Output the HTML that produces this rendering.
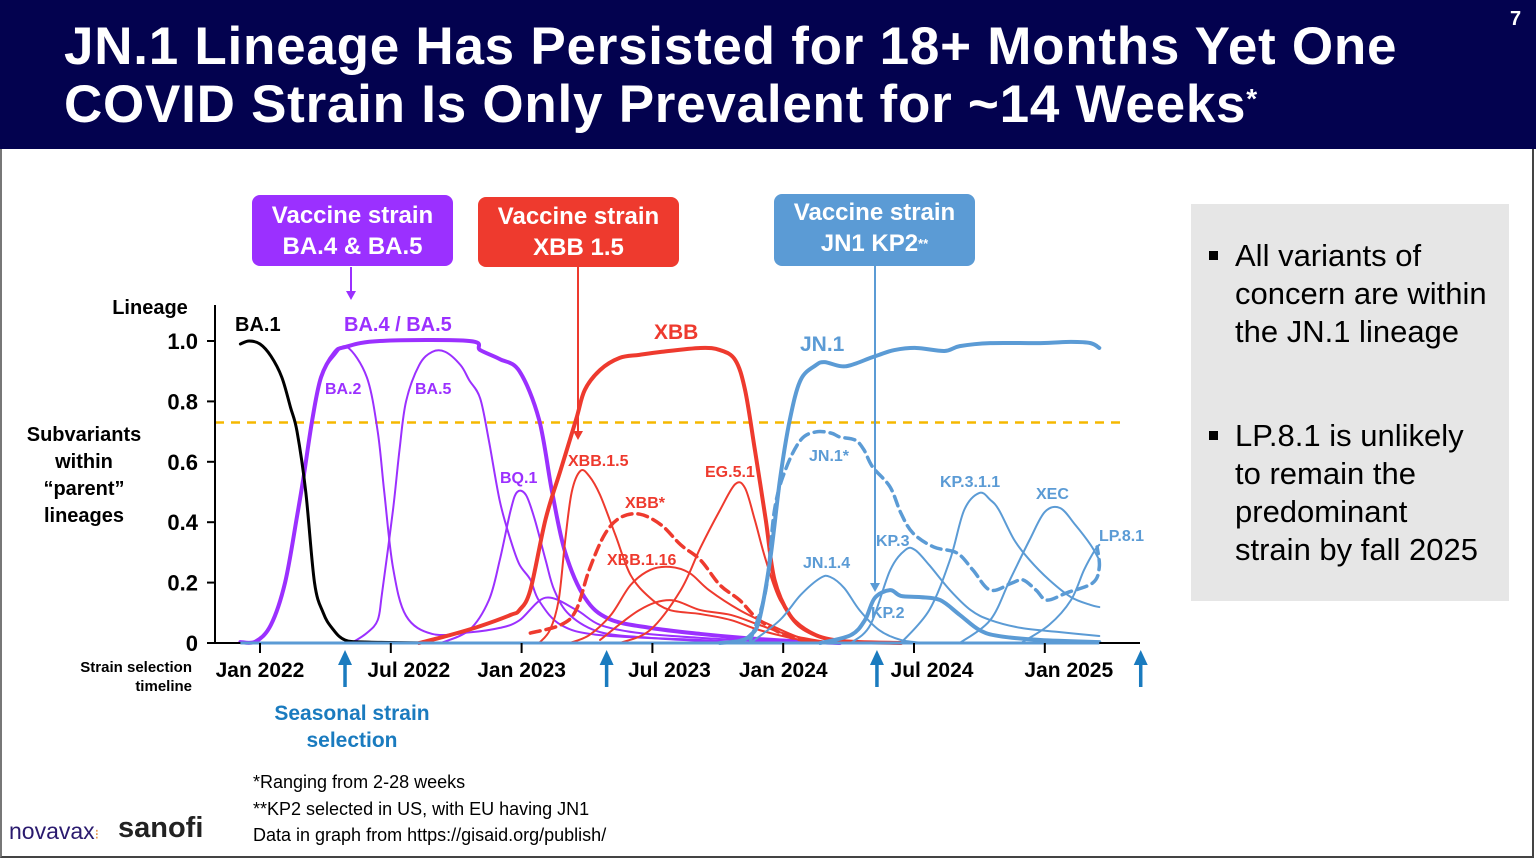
<!DOCTYPE html>
<html><head><meta charset="utf-8"><style>
body{margin:0;width:1536px;height:861px;position:relative;overflow:hidden;background:#fff;font-family:"Liberation Sans",Arial,sans-serif}
.hdr{position:absolute;left:0;top:0;width:1536px;height:149px;background:#03024f}
.title{position:absolute;left:64px;top:18px;color:#fff;font-weight:bold;font-size:53px;letter-spacing:0.75px;line-height:58px;white-space:nowrap}
.vbox{position:absolute;color:#fff;font-weight:bold;font-size:24px;line-height:31px;text-align:center;border-radius:8px}
.gray{position:absolute;left:1191px;top:204px;width:318px;height:397px;background:#e6e6e6}
.bul{position:absolute;left:1235px;font-size:31px;line-height:38px;color:#000}
.bul:before{content:"";position:absolute;left:-26px;top:14px;width:9px;height:9px;background:#000}
.foot{position:absolute;left:253px;font-size:18px;color:#000}
</style></head><body>
<div class="hdr"></div>
<div class="title">JN.1 Lineage Has Persisted for 18+ Months Yet One<br>COVID Strain Is Only Prevalent for ~14 Weeks<sup style="font-size:28px;vertical-align:top;position:relative;top:-6px">*</sup></div>
<div style="position:absolute;left:1510px;top:8px;color:#fff;font-weight:bold;font-size:20px">7</div>
<div style="position:absolute;left:0;top:149px;width:1534px;height:709px;border-left:2px solid #777;border-right:2px solid #444;border-bottom:2px solid #444;box-sizing:border-box"></div>

<div class="vbox" style="left:252px;top:195px;width:201px;height:71px;background:#9b30ff;padding-top:5px;box-sizing:border-box">Vaccine strain<br>BA.4 &amp; BA.5</div>
<div class="vbox" style="left:478px;top:197px;width:201px;height:70px;background:#ee3a2e;padding-top:4px;box-sizing:border-box">Vaccine strain<br>XBB 1.5</div>
<div class="vbox" style="left:774px;top:194px;width:201px;height:72px;background:#5b9bd5;padding-top:3px;box-sizing:border-box">Vaccine strain<br>JN1 KP2<sup style="font-size:13px;vertical-align:top">**</sup></div>

<div class="gray"></div>
<div class="bul" style="top:237px">All variants of<br>concern are within<br>the JN.1 lineage</div>
<div class="bul" style="top:417px">LP.8.1 is unlikely<br>to remain the<br>predominant<br>strain by fall 2025</div>

<div class="foot" style="top:772px">*Ranging from 2-28 weeks</div>
<div class="foot" style="top:799px">**KP2 selected in US, with EU having JN1</div>
<div class="foot" style="top:825px">Data in graph from https://gisaid.org/publish/</div>
<div style="position:absolute;left:9px;top:818px;font-size:23px;color:#2a1a6e">novavax<span style="color:#e58a3a;font-size:14px">⁝</span></div>
<div style="position:absolute;left:118px;top:812px;font-size:29px;font-weight:bold;color:#222">sanofi</div>

<svg id="chart" width="1536" height="861" style="position:absolute;left:0;top:0"></svg>
<script>
const yTicks=[0,0.2,0.4,0.6,0.8,1.0];
const yTickLabels=["0","0.2","0.4","0.6","0.8","1.0"];
const xTickMonths=[0,6,12,18,24,30,36];
const xTickLabels=["Jan 2022","Jul 2022","Jan 2023","Jul 2023","Jan 2024","Jul 2024","Jan 2025"];
const xLabelShift=[0,18,0,17,0,18,24];
const selectionMonths=[3.9,15.9,28.3,40.4];
const threshold=0.73;
const ba1=[[-0.9,0.99],[-0.5,1.0],[0,0.99],[0.5,0.95],[1,0.88],[1.4,0.78],[1.7,0.7],[2.1,0.5],[2.5,0.2],[2.9,0.1],[3.3,0.05],[3.9,0.01],[5,0.003],[8,0]];
const ba45=[[-0.9,0.003],[-0.2,0.005],[0.5,0.06],[1.15,0.2],[1.7,0.42],[2.0,0.55],[2.4,0.74],[2.8,0.88],[3.4,0.96],[3.9,0.98],[5.5,1.0],[9.6,1.0],[10.1,0.97],[11.0,0.94],[11.9,0.9],[12.8,0.74],[13.4,0.5],[14.0,0.3],[14.9,0.15],[16,0.08],[17.9,0.05],[20.2,0.03],[22.5,0.015],[24.8,0.005],[26.6,0]];
const ba2=[[-0.9,0.003],[-0.2,0.005],[0.5,0.06],[1.15,0.2],[1.7,0.42],[2.0,0.55],[2.4,0.74],[2.8,0.88],[3.4,0.95],[4.0,0.98],[4.9,0.88],[5.4,0.7],[5.7,0.5],[6.1,0.25],[6.7,0.09],[7.9,0.03],[9.6,0.035],[11,0.05],[11.9,0.075],[13.1,0.15],[14.5,0.11],[15.6,0.06],[17.4,0.033],[20.2,0.017],[22.9,0.007],[25,0]];
const ba5=[[4.2,0],[4.9,0.033],[5.4,0.076],[5.6,0.166],[6.1,0.44],[6.4,0.64],[6.7,0.8],[7.3,0.92],[7.9,0.964],[8.5,0.964],[9.2,0.92],[9.6,0.87],[10.1,0.81],[10.5,0.67],[11,0.47],[11.5,0.34],[11.9,0.26],[12.4,0.21],[12.8,0.14],[13.8,0.06],[15.6,0.026],[20.2,0.01],[23,0]];
const bq1=[[8.3,0],[9.6,0.043],[10.5,0.142],[11,0.275],[11.5,0.44],[11.8,0.5],[12.2,0.49],[12.6,0.41],[13.1,0.275],[13.5,0.175],[14.2,0.093],[15.6,0.036],[17.9,0.017],[20.2,0.007],[22,0]];
const xbb=[[7.3,0],[8.7,0.026],[10.1,0.056],[11.5,0.093],[11.9,0.109],[12.4,0.175],[13.1,0.41],[13.8,0.575],[14.5,0.74],[14.9,0.838],[15.6,0.904],[16.5,0.944],[17.4,0.954],[18.4,0.964],[20.2,0.977],[21.1,0.97],[21.8,0.937],[22.25,0.838],[22.7,0.64],[23.2,0.408],[23.6,0.21],[24.3,0.093],[25.2,0.036],[26.6,0.007],[29.4,0]];
const xbb15=[[12.8,0],[13.3,0.043],[13.7,0.142],[14,0.34],[14.3,0.5],[14.7,0.57],[15.1,0.553],[15.6,0.49],[16.3,0.358],[17,0.225],[17.9,0.149],[18.8,0.109],[20.2,0.096],[21.6,0.076],[22.9,0.043],[24.8,0.01],[26,0]];
const xbbStar=[[12.4,0.033],[13.8,0.06],[14.5,0.109],[15.1,0.242],[15.8,0.358],[16.5,0.414],[17.4,0.427],[18.4,0.391],[19.3,0.325],[20.2,0.275],[21.1,0.192],[22,0.142],[22.9,0.076],[24.3,0.02],[25.7,0.003]];
const xbb116=[[14.2,0],[15.1,0.026],[16.1,0.093],[17,0.192],[17.9,0.242],[18.8,0.252],[19.7,0.232],[20.6,0.175],[22,0.109],[23.4,0.06],[24.8,0.017],[26.2,0]];
const xbb19=[[15.6,0.01],[17.4,0.109],[18.8,0.142],[20.2,0.109],[21.6,0.093],[22.9,0.06],[24.3,0.026],[26,0.003]];
const eg51=[[16.5,0],[17.9,0.043],[19.3,0.175],[20.2,0.315],[21.1,0.44],[21.8,0.526],[22.25,0.513],[22.7,0.407],[23.2,0.275],[23.85,0.142],[24.8,0.06],[26.2,0.01],[27.5,0]];
const jn1=[[21.1,0],[22,0.007],[22.5,0.026],[22.9,0.076],[23.4,0.275],[23.85,0.54],[24.3,0.738],[24.8,0.871],[25.5,0.92],[25.9,0.93],[26.6,0.917],[27.1,0.92],[28,0.944],[28.4,0.954],[29.1,0.97],[30.1,0.977],[31.4,0.967],[32.1,0.983],[33.5,0.993],[35.8,0.993],[37.2,0.997],[38.1,0.993],[38.5,0.977]];
const jn1Star=[[22.5,0.01],[23.2,0.175],[23.6,0.44],[24.1,0.573],[24.8,0.672],[25.5,0.699],[26.2,0.695],[26.6,0.682],[27.3,0.672],[27.7,0.64],[28.1,0.583],[28.9,0.517],[29.4,0.43],[29.95,0.364],[30.9,0.318],[31.97,0.298],[32.7,0.242],[33.5,0.175],[34.5,0.199],[35.0,0.209],[35.6,0.175],[36.1,0.142],[37.0,0.166],[38.2,0.199],[38.5,0.252],[38.4,0.318]];
const jn14=[[22.5,0],[23.85,0.076],[24.8,0.159],[25.7,0.215],[26.15,0.219],[26.8,0.182],[27.5,0.109],[28.4,0.043],[29.4,0.01],[30.5,0]];
const kp2=[[25.7,0],[27.1,0.026],[27.75,0.076],[28.2,0.149],[28.9,0.175],[29.4,0.156],[30.3,0.152],[31.2,0.142],[32.1,0.093],[33,0.043],[33.9,0.023],[35.8,0.01],[38.5,0.003]];
const kp3=[[27.1,0],[28,0.06],[28.9,0.24],[29.6,0.308],[30.05,0.308],[30.7,0.258],[31.65,0.175],[32.6,0.109],[33.5,0.076],[34.9,0.05],[36.7,0.036],[38.5,0.023]];
const kp311=[[29.4,0],[30.7,0.109],[31.65,0.275],[32.3,0.44],[33.0,0.497],[33.5,0.474],[33.9,0.44],[34.6,0.341],[35.3,0.275],[36.2,0.209],[37.2,0.152],[38.1,0.126],[38.5,0.119]];
const xec=[[32.1,0],[33.5,0.076],[34.4,0.209],[35.3,0.341],[36.0,0.434],[36.7,0.447],[37.4,0.391],[38.1,0.325],[38.5,0.275]];
const lp81=[[34.9,0],[36.2,0.06],[37.2,0.142],[37.8,0.242],[38.3,0.308],[38.5,0.325]];

const svg=document.getElementById('chart');
const NS='http://www.w3.org/2000/svg';
const X0=260,PXM=21.8,Y0=643,PXV=302;
function xs(m){return X0+m*PXM;}
function ys(v){return Y0-v*PXV;}
function el(tag,attrs,parent){const e=document.createElementNS(NS,tag);for(const k in attrs)e.setAttribute(k,attrs[k]);(parent||svg).appendChild(e);return e;}
function txt(x,y,s,size,color,anchor,name){const t=el('text',{x:x,y:y,'font-size':size,'font-weight':'bold',fill:color,'text-anchor':anchor||'start','font-family':'Liberation Sans, Arial, sans-serif'});t.textContent=s;


return t;}
function pathD(d){const p=d.map(a=>[xs(a[0]),ys(a[1])]);let s='M'+p[0][0]+','+p[0][1];for(let i=0;i<p.length-1;i++){const p0=p[i-1]||p[i],p1=p[i],p2=p[i+1],p3=p[i+2]||p2;const c1x=p1[0]+(p2[0]-p0[0])/6,c1y=p1[1]+(p2[1]-p0[1])/6,c2x=p2[0]-(p3[0]-p1[0])/6,c2y=p2[1]-(p3[1]-p1[1])/6;s+=' C'+c1x+','+c1y+' '+c2x+','+c2y+' '+p2[0]+','+p2[1];}return s;}
function series(d,color,w,dash,name){const p=el('path',{d:pathD(d),fill:'none',stroke:color,'stroke-width':w,'stroke-linejoin':'round','stroke-linecap':'round'});if(dash)p.setAttribute('stroke-dasharray',dash);

}

const th=el('line',{x1:215,x2:1120,y1:ys(threshold),y2:ys(threshold),stroke:'#f5b800','stroke-width':2.5,'stroke-dasharray':'9,7'});



const P='#9b30ff',R='#ee3a2e',B='#5b9bd5';
series(ba2,P,2,null,'line-ba2');series(ba5,P,2,null,'line-ba5');series(bq1,P,2,null,'line-bq1');
series(ba45,P,4,null,'line-ba45');
series(ba1,'#000',3,null,'line-ba1');
series(xbb15,R,2,null,'line-xbb15');series(xbb116,R,2,null,'line-xbb116');series(xbb19,R,2,null,'line-xbb19');series(eg51,R,2,null,'line-eg51');
series(xbbStar,R,3.5,'10,6','line-xbb-star');
series(xbb,R,4,null,'line-xbb');
series(jn14,B,2,null,'line-jn14');series(kp3,B,2,null,'line-kp3');series(kp311,B,2,null,'line-kp311');series(xec,B,2,null,'line-xec');series(lp81,B,2,null,'line-lp81');
series(kp2,B,4,null,'line-kp2');
series(jn1Star,B,3.5,'10,6','line-jn1-star');
series(jn1,B,4,null,'line-jn1');

const ya=el('line',{x1:215,x2:215,y1:305,y2:Y0,stroke:'#000','stroke-width':2});


const xa=el('line',{x1:215,x2:1140,y1:Y0,y2:Y0,stroke:'#000','stroke-width':2});


const bl=el('line',{x1:xs(-0.9),x2:xs(38.5),y1:Y0,y2:Y0,stroke:B,'stroke-width':3});


yTicks.forEach((v,i)=>{const t=el('line',{x1:207,x2:215,y1:ys(v),y2:ys(v),stroke:'#000','stroke-width':2});


txt(198,ys(v)+8,yTickLabels[i],22,'#000','end','y-tick-label');});
xTickMonths.forEach((m,i)=>{const t=el('line',{x1:xs(m),x2:xs(m),y1:Y0,y2:Y0+10,stroke:'#000','stroke-width':2});


txt(xs(m)+xLabelShift[i],Y0+34,xTickLabels[i],21,'#000','middle','x-tick-label');});
selectionMonths.forEach(m=>{const g=el('g',{});


const x=xs(m);el('line',{x1:x,x2:x,y1:664,y2:687,stroke:'#1a7bbf','stroke-width':3.5},g);el('polygon',{points:(x-7)+',665 '+(x+7)+',665 '+x+',650',fill:'#1a7bbf'},g);});

txt(150,314,'Lineage',20,'#000','middle','y-axis-title');
[['Subvariants',441],['within',468],['\u201cparent\u201d',495],['lineages',522]].forEach(a=>txt(84,a[1],a[0],20,'#000','middle','y-axis-subtitle'));
txt(192,672,'Strain selection',15,'#000','end','timeline-label');txt(192,691,'timeline',15,'#000','end','timeline-label');
txt(352,720,'Seasonal strain',21,'#1a7bbf','middle','seasonal-label');txt(352,747,'selection',21,'#1a7bbf','middle','seasonal-label');
txt(235,331,'BA.1',20,'#000','start','label-ba1');
txt(344,331,'BA.4 / BA.5',20,P,'start','label-ba45');
txt(325,394,'BA.2',16,P,'start','label-ba2');txt(415,394,'BA.5',16,P,'start','label-ba5');txt(500,483,'BQ.1',16,P,'start','label-bq1');
txt(654,339,'XBB',21,R,'start','label-xbb');txt(568,466,'XBB.1.5',16,R,'start','label-xbb15');txt(625,508,'XBB*',16,R,'start','label-xbb-star');txt(607,565,'XBB.1.16',16,R,'start','label-xbb116');txt(705,477,'EG.5.1',16,R,'start','label-eg51');
txt(800,351,'JN.1',21,B,'start','label-jn1');txt(809,461,'JN.1*',16,B,'start','label-jn1-star');txt(803,568,'JN.1.4',16,B,'start','label-jn14');txt(876,546,'KP.3',16,B,'start','label-kp3');txt(871,618,'KP.2',16,B,'start','label-kp2');txt(940,487,'KP.3.1.1',16,B,'start','label-kp311');txt(1036,499,'XEC',16,B,'start','label-xec');txt(1099,541,'LP.8.1',16,B,'start','label-lp81');

function arr(x,y1,y2,c,name){const g=el('g',{});


el('line',{x1:x,x2:x,y1:y1,y2:y2-8,stroke:c,'stroke-width':2},g);el('polygon',{points:(x-5)+','+(y2-9)+' '+(x+5)+','+(y2-9)+' '+x+','+y2,fill:c},g);}
arr(351,267,300,P,'arrow-ba45');arr(578,267,440,R,'arrow-xbb15');arr(875,266,592,B,'arrow-kp2');
</script>
</body></html>
